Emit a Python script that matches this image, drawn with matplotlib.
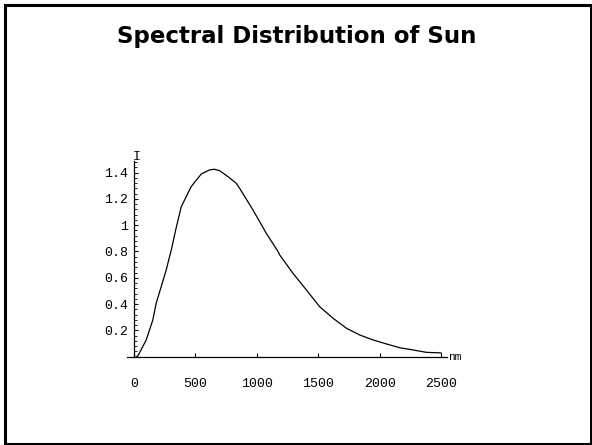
import matplotlib
matplotlib.use("Agg")
import matplotlib.pyplot as plt
from matplotlib.patches import Rectangle
from matplotlib.ticker import MultipleLocator

title = "Spectral Distribution of Sun"
wavelength = [20, 33, 101, 155, 182, 223, 264, 291, 305, 340, 386, 467, 549, 616, 657,
              698, 766, 834, 861, 969, 1078, 1173, 1187, 1295, 1404, 1512, 1621, 1730,
              1838, 1947, 2055, 2164, 2272, 2381, 2476, 2500]
intensity = [0.0, 0.005, 0.127, 0.279, 0.406, 0.532, 0.66, 0.76, 0.81, 0.96, 1.14, 1.293,
             1.389, 1.42, 1.425, 1.414, 1.369, 1.318, 1.28, 1.116, 0.938, 0.80, 0.773, 0.634,
             0.507, 0.38, 0.292, 0.216, 0.165, 0.127, 0.097, 0.068, 0.051, 0.033, 0.030, 0.028]
xticks = [0, 500, 1000, 1500, 2000, 2500]
yticks = [0.2, 0.4, 0.6, 0.8, 1.0, 1.2, 1.4]
yticklabels = ["0.2", "0.4", "0.6", "0.8", "1", "1.2", "1.4"]

W, H = 592, 445
fig = plt.figure(figsize=(W / 100, H / 100), dpi=100)
fig.patch.set_facecolor("white")

# slide border
fig.add_artist(Rectangle((5 / W, 1.5 / H), 586 / W, 439 / H, transform=fig.transFigure,
                         fill=False, edgecolor="black", linewidth=2.2))

fig.text(297 / W, 1 - 36 / H, title, ha="center", va="center",
         fontsize=16.5, fontweight="bold", family="DejaVu Sans")

ax = fig.add_axes([127 / W, 88.3 / H, 319.7 / W, 196 / H])
ax.plot(wavelength, intensity, color="black", linewidth=0.9)
ax.set_xlim(-55, 2545)
ax.set_ylim(0, 1.49)

for s in ["top", "right"]:
    ax.spines[s].set_visible(False)
ax.spines["left"].set_position(("data", 0))
ax.spines["bottom"].set_position(("data", 0))
ax.spines["left"].set_linewidth(0.9)
ax.spines["bottom"].set_linewidth(0.9)

mono = "Liberation Mono"
ax.set_xticks(xticks)
ax.set_xticklabels([str(v) for v in xticks], fontfamily=mono, fontsize=9.5)
ax.set_yticks(yticks)
ax.set_yticklabels(yticklabels, fontfamily=mono, fontsize=9.5)
ax.yaxis.set_minor_locator(MultipleLocator(0.04))
ax.tick_params(axis="x", which="major", direction="in", length=3, width=0.8, pad=15)
ax.tick_params(axis="y", which="major", direction="in", length=3, width=0.8, pad=4)
ax.tick_params(axis="y", which="minor", direction="in", length=1.8, width=0.6)

ax.text(22, 1.52, "I", fontfamily=mono, fontsize=9.5, ha="center", va="center",
        transform=ax.transData, clip_on=False)
ax.text(2555, 0, "nm", fontfamily=mono, fontsize=8, ha="left", va="center",
        transform=ax.transData, clip_on=False)

fig.savefig("out.png", dpi=100, facecolor="white")
